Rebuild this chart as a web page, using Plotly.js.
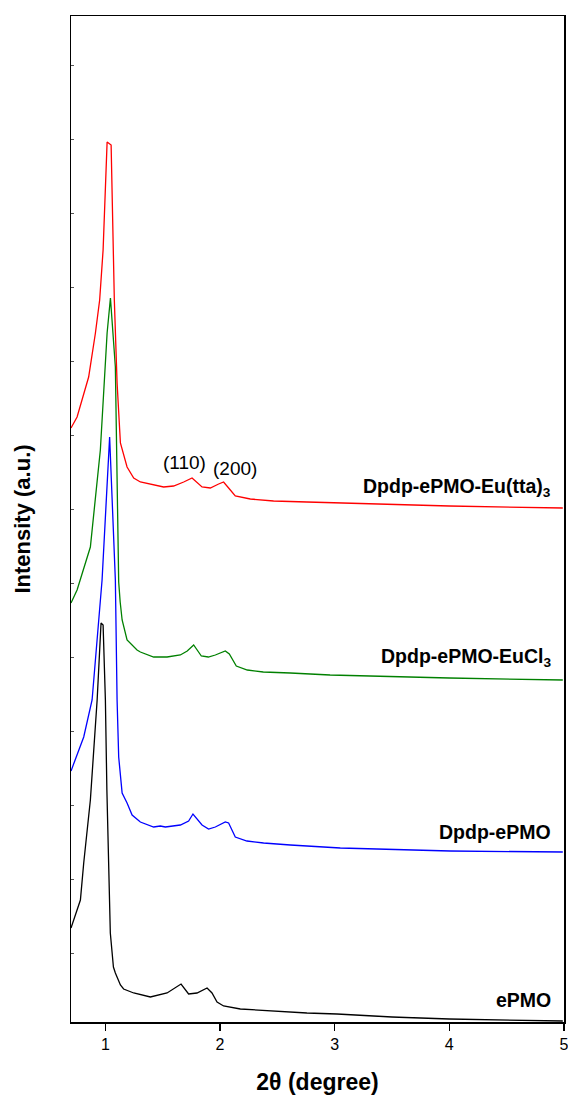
<!DOCTYPE html>
<html>
<head>
<meta charset="utf-8">
<script src="https://cdn.plot.ly/plotly-3.0.1.min.js"></script>
<style>html,body{margin:0;padding:0;background:#fff;}#chart{width:568px;height:1102px;}</style>
</head>
<body>
<div id="chart"></div>
<script>
// 2θ (degree) and intensity (a.u., curves stacked with offsets as in the figure)
const ePMO_x = [0.70,0.782,0.811,0.869,0.928,0.962,0.980,1.000,1.013,1.043,1.070,1.087,1.131,1.159,1.247,1.392,1.538,1.610,1.660,1.726,1.799,1.887,1.930,1.974,2.031,2.177,2.467,2.758,3.020,3.5,4.0,4.5,4.99];
const ePMO_y = [94,122,159,222,322,399,397,322,232,89,55,49,37,33,29,25,29,34,38,28,29,34,29,20,16,13,11,9,8,5,3,2,1];

const dpdp_x = [0.70,0.811,0.884,0.971,1.037,1.087,1.102,1.116,1.146,1.189,1.233,1.305,1.421,1.479,1.523,1.654,1.726,1.764,1.843,1.900,1.959,2.046,2.075,2.133,2.235,2.380,2.613,2.903,3.049,4.007,4.99];
const dpdp_y = [251,285,322,442,585,442,322,265,229,219,207,200,195,196,195,197,201,208,197,193,195,200,199,185,181,179,177,175,174,171,170];

const eucl_x = [0.70,0.753,0.869,0.956,1.015,1.044,1.087,1.102,1.116,1.129,1.146,1.189,1.276,1.305,1.421,1.538,1.654,1.714,1.770,1.837,1.898,1.959,2.046,2.081,2.142,2.238,2.377,2.613,2.960,4.0,4.99];
const eucl_y = [419,432,475,572,689,724,655,555,440,420,402,382,372,370,365,365,367,371,377,366,365,367,371,368,356,352,350,349,347,344,342];

const tta_x = [0.70,0.753,0.854,0.913,0.950,0.980,1.015,1.050,1.078,1.102,1.131,1.189,1.247,1.305,1.508,1.595,1.683,1.756,1.843,1.915,1.988,2.031,2.075,2.133,2.264,2.467,2.758,3.049,4.0,4.99];
const tta_y = [594,605,645,689,722,772,880,877,722,639,579,555,544,540,535,536,540,544,535,534,538,540,534,526,523,521,520,519,516,514];

const seriesNames = ['ePMO','Dpdp-ePMO','Dpdp-ePMO-EuCl<sub>3</sub>','Dpdp-ePMO-Eu(tta)<sub>3</sub>'];
const seriesColors = ['#000000','#0000ff','#008000','#ff0000'];
const xTicks = [1,2,3,4,5];
const peakLabels = ['(110)','(200)'];

const xs = [ePMO_x, dpdp_x, eucl_x, tta_x];
const ys = [ePMO_y, dpdp_y, eucl_y, tta_y];

const traces = xs.map((x,i)=>({
  x: x, y: ys[i], type:'scatter', mode:'lines',
  line:{color: seriesColors[i], width:1.3, shape:'linear'},
  hoverinfo:'skip', showlegend:false
}));

const FONT = 'Liberation Sans, Arial, sans-serif';
// label positions (layout)
const labelY = [22, 190, 365, 535];
const annotations = seriesNames.map((n,i)=>({
  text:'<b>'+n+'</b>', x:4.905, y:labelY[i], xref:'x', yref:'y',
  xanchor:'right', yanchor:'middle', showarrow:false,
  font:{family:FONT, size:19.5, color:'#000'}
}));
annotations.push({text:peakLabels[0], x:1.686, y:560, xref:'x', yref:'y', xanchor:'center', yanchor:'middle', showarrow:false, font:{family:FONT, size:19, color:'#000'}});
annotations.push({text:peakLabels[1], x:2.13, y:554, xref:'x', yref:'y', xanchor:'center', yanchor:'middle', showarrow:false, font:{family:FONT, size:19, color:'#000'}});

const layout = {
  width:568, height:1102,
  margin:{l:71, r:4, t:16, b:80},
  paper_bgcolor:'#fff', plot_bgcolor:'#fff',
  font:{family:FONT, color:'#000'},
  xaxis:{
    range:[0.7,5.0005], tickvals:xTicks, ticktext:xTicks.map(String),
    ticks:'outside', ticklen:7, tickwidth:1.3, tickcolor:'#000',
    ticklabeloverflow:'allow',
    showline:true, linecolor:'#000', linewidth:1.5, mirror:true,
    showgrid:false, zeroline:false,
    tickfont:{size:16, color:'#000'},
    title:{text:'<b>2θ (degree)</b>', font:{size:23, color:'#000'}, standoff:22}
  },
  yaxis:{
    range:[0,1006], showticklabels:false,
    ticks:'inside', ticklen:3, tickwidth:1, tickcolor:'#555', tick0:735, dtick:74,
    showline:true, linecolor:'#000', linewidth:1.5, mirror:true,
    showgrid:false, zeroline:false,
    title:{text:'<b>Intensity (a.u.)</b>', font:{size:22, color:'#000'}, standoff:33}
  },
  annotations: annotations
};

Plotly.newPlot('chart', traces, layout, {staticPlot:true, displayModeBar:false});
</script>
</body>
</html>
